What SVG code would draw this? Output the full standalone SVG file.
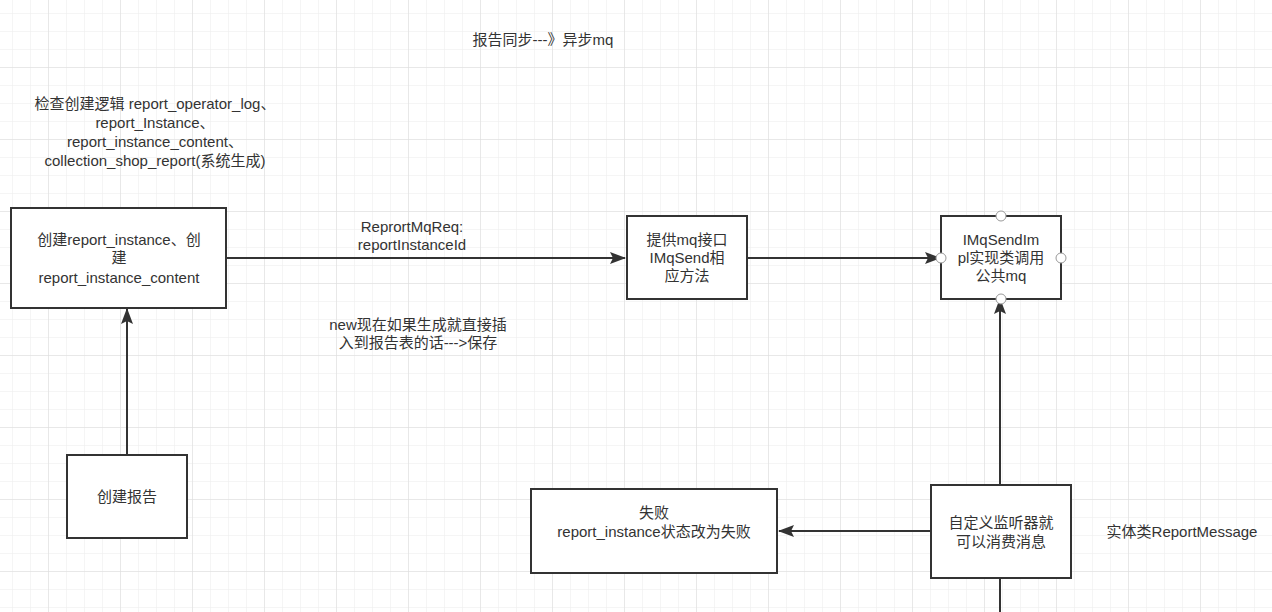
<svg xmlns="http://www.w3.org/2000/svg" width="1272" height="612" viewBox="0 0 1272 612">
<defs>
<pattern id="minor" x="12" y="13" width="18" height="18" patternUnits="userSpaceOnUse"><path d="M0 0H18M0 0V18" fill="none" stroke="#ebebeb" stroke-width="1"/></pattern>
<pattern id="major" x="48" y="67" width="72" height="72" patternUnits="userSpaceOnUse"><path d="M0 0H72M0 0V72" fill="none" stroke="#dcdcdc" stroke-width="1"/></pattern>
<marker id="ah" markerWidth="16" markerHeight="12" refX="15" refY="6" orient="auto" markerUnits="userSpaceOnUse"><path d="M0 0L16 6L0 12L3 6Z" fill="#333"/></marker>
</defs>
<style>
text{font-family:"Liberation Sans","Noto Sans CJK SC",sans-serif;font-size:15px;fill:#333;text-anchor:middle}
.n{fill:#fff;stroke:#333;stroke-width:2}
.c{fill:none;stroke:#333;stroke-width:2;marker-end:url(#ah)}
.p{fill:#fff;stroke:#999;stroke-width:1}
</style>
<rect width="1272" height="612" fill="#fff"/>
<rect width="1272" height="612" fill="url(#minor)"/>
<rect width="1272" height="612" fill="url(#major)"/>
<g id="labels">
<text x="543" y="45">报告同步---》异步mq</text>
<text x="155" y="109">检查创建逻辑 report_operator_log、</text>
<text x="155" y="128">report_Instance、</text>
<text x="155" y="147">report_instance_content、</text>
<text x="155" y="166">collection_shop_report(系统生成)</text>
<text x="412" y="232">ReprortMqReq:</text>
<text x="412" y="250">reportInstanceId</text>
<text x="418" y="330">new现在如果生成就直接插</text>
<text x="418" y="348">入到报告表的话---&gt;保存</text>
<text x="1182" y="537">实体类ReportMessage</text>
</g>
<g id="connectors">
<path class="c" d="M127 454V309"/>
<path class="c" d="M227 258H625"/>
<path class="c" d="M747 258H940"/>
<path class="c" d="M1000 612V299"/>
<path class="c" d="M930 531H779"/>
</g>
<g id="n1"><rect class="n" x="11" y="208" width="215" height="100"/><text x="119" y="245">创建report_instance、创</text><text x="119" y="263">建</text><text x="119" y="283">report_instance_content</text></g>
<g id="n2"><rect class="n" x="67" y="455" width="120" height="83"/><text x="127" y="502">创建报告</text></g>
<g id="n3"><rect class="n" x="627" y="216" width="120" height="83"/><text x="687" y="245">提供mq接口</text><text x="687" y="263">IMqSend相</text><text x="687" y="281">应方法</text></g>
<g id="n4"><rect class="n" x="941" y="216" width="120" height="83"/><text x="1001" y="245">IMqSendIm</text><text x="1001" y="263">pl实现类调用</text><text x="1001" y="281">公共mq</text>
<circle class="p" cx="1001" cy="216" r="5"/><circle class="p" cx="941" cy="258" r="5"/><circle class="p" cx="1061" cy="258" r="5"/><circle class="p" cx="1001" cy="299" r="5"/></g>
<g id="n5"><rect class="n" x="531" y="489" width="246" height="84"/><text x="654" y="518">失败</text><text x="654" y="537">report_instance状态改为失败</text></g>
<g id="n6"><rect class="n" x="931" y="485" width="140" height="93"/><text x="1001" y="528">自定义监听器就</text><text x="1001" y="547">可以消费消息</text></g>
</svg>
